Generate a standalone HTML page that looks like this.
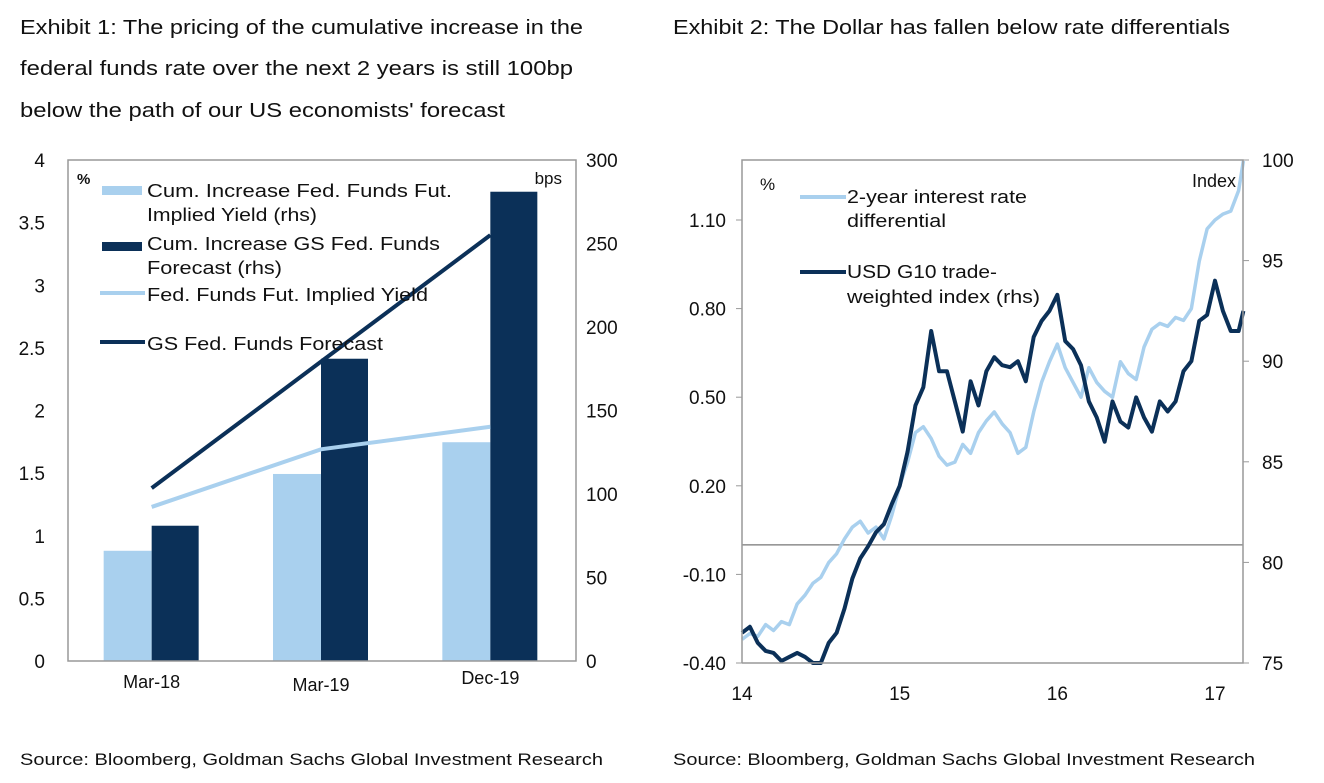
<!DOCTYPE html>
<html><head><meta charset="utf-8"><style>
body{margin:0;background:#fff;width:1324px;height:783px;overflow:hidden;font-family:"Liberation Sans",Arial,sans-serif;}
svg{position:absolute;left:0;top:0}
text{font-family:"Liberation Sans",Arial,sans-serif;fill:#111}
</style></head><body>
<svg id="s" width="1324" height="783">
<g font-size="20">
<text x="20" y="34" textLength="563" lengthAdjust="spacingAndGlyphs">Exhibit 1: The pricing of the cumulative increase in the</text>
<text x="20" y="75" textLength="553" lengthAdjust="spacingAndGlyphs">federal funds rate over the next 2 years is still 100bp</text>
<text x="20" y="117" textLength="485" lengthAdjust="spacingAndGlyphs">below the path of our US economists' forecast</text>
</g>
<text x="673" y="34" font-size="20" textLength="557" lengthAdjust="spacingAndGlyphs">Exhibit 2: The Dollar has fallen below rate differentials</text>
<text x="20" y="765" font-size="17" textLength="583" lengthAdjust="spacingAndGlyphs">Source: Bloomberg, Goldman Sachs Global Investment Research</text>
<text x="673" y="765" font-size="17" textLength="582" lengthAdjust="spacingAndGlyphs">Source: Bloomberg, Goldman Sachs Global Investment Research</text>
<g id="c1"></g>
<g id="c2"></g>
</svg>
<script>
// Chart 1 data
const cats1 = ["Mar-18","Mar-19","Dec-19"];
const cumImplied = [66,112,131];       // bps rhs
const cumGS = [81,181,281];            // bps rhs
const impliedYield = [1.23,1.69,1.87]; // % lhs
const gsForecast = [1.38,2.39,3.40];   // % lhs
const lTicks1 = ["0","0.5","1","1.5","2","2.5","3","3.5","4"];
const rTicks1 = ["0","50","100","150","200","250","300"];
// Chart 2 data
const t2 = [14.0,14.05,14.1,14.15,14.2,14.25,14.3,14.35,14.4,14.45,14.5,14.55,14.6,14.65,14.7,14.75,14.8,14.85,14.9,14.95,15.0,15.05,15.1,15.15,15.2,15.25,15.3,15.35,15.4,15.45,15.5,15.55,15.6,15.65,15.7,15.75,15.8,15.85,15.9,15.95,16.0,16.05,16.1,16.15,16.2,16.25,16.3,16.35,16.4,16.45,16.5,16.55,16.6,16.65,16.7,16.75,16.8,16.85,16.9,16.95,17.0,17.05,17.1,17.15,17.18];
const diff2y = [-0.32,-0.30,-0.31,-0.27,-0.29,-0.26,-0.27,-0.20,-0.17,-0.13,-0.11,-0.06,-0.03,0.02,0.06,0.08,0.04,0.06,0.02,0.10,0.20,0.28,0.38,0.40,0.36,0.30,0.27,0.28,0.34,0.31,0.38,0.42,0.45,0.41,0.38,0.31,0.33,0.45,0.55,0.62,0.68,0.60,0.55,0.50,0.60,0.55,0.52,0.50,0.62,0.58,0.56,0.67,0.73,0.75,0.74,0.77,0.76,0.80,0.96,1.07,1.10,1.12,1.13,1.20,1.30];
const usdIdx = [76.5,76.8,76.0,75.6,75.5,75.1,75.3,75.5,75.3,75.0,75.0,76.0,76.5,77.7,79.2,80.2,80.8,81.5,81.9,82.9,83.8,85.5,87.8,88.7,91.5,89.5,89.5,88.0,86.5,89.0,87.8,89.5,90.2,89.8,89.7,90.0,89.0,91.2,92.0,92.5,93.3,91.0,90.6,89.8,88.0,87.2,86.0,88.0,87.0,86.7,88.2,87.2,86.5,88.0,87.5,88.0,89.5,90.0,92.0,92.3,94.0,92.5,91.5,91.5,92.5];
const lTicks2 = ["-0.40","-0.10","0.20","0.50","0.80","1.10"];
const rTicks2 = ["75","80","85","90","95","100"];
const xTicks2 = ["14","15","16","17"];

const NS="http://www.w3.org/2000/svg";
function mk(p,tag,a,txt){const e=document.createElementNS(NS,tag);for(const k in a)e.setAttribute(k,a[k]);if(txt!==undefined)e.textContent=txt;p.appendChild(e);return e;}
function tl(p,x,y,w,txt){return mk(p,'text',{x:x,y:y,textLength:w,lengthAdjust:'spacingAndGlyphs'},txt);}
const DARK="#0b3058", LIGHT="#a9d0ee";

// ---- Chart 1
(function(){
const g=document.getElementById('c1');
const X0=68,X1=576,Y0=661,Y1=160;
const yl=v=>Y0-(v/4)*(Y0-Y1), yr=v=>Y0-(v/300)*(Y0-Y1);
const band=(X1-X0)/cats1.length, cx=i=>X0+band*(i+0.5)-1, bw=48;
lTicks1.forEach(t=>{const e=mk(g,'text',{x:45,y:yl(+t)+7,'font-size':19,'text-anchor':'end'},t);
});
rTicks1.forEach(t=>{const e=mk(g,'text',{x:586,y:yr(+t)+7,'font-size':19},t);
});
cats1.forEach((c,i)=>{
 const a=mk(g,'rect',{x:cx(i)-bw,y:yr(cumImplied[i]),width:bw,height:Y0-yr(cumImplied[i]),fill:LIGHT});
 
 const b=mk(g,'rect',{x:cx(i),y:yr(cumGS[i]),width:bw-1,height:Y0-yr(cumGS[i]),fill:DARK});
 
 const l=mk(g,'text',{x:cx(i),y:[688,691,684][i],'font-size':18,'text-anchor':'middle'},c);
 
});
const pl=(arr)=>arr.map((v,i)=>cx(i)+','+yl(v)).join(' ');
const l1=mk(g,'polyline',{points:pl(impliedYield),fill:'none',stroke:LIGHT,'stroke-width':4});

const l2=mk(g,'polyline',{points:pl(gsForecast),fill:'none',stroke:DARK,'stroke-width':4});

const fr=mk(g,'rect',{x:X0,y:Y1,width:X1-X0,height:Y0-Y1,fill:'none',stroke:'#999','stroke-width':1.5});

mk(g,'text',{x:77,y:184,'font-size':15,'font-weight':'bold'},'%');
mk(g,'text',{x:562,y:184,'font-size':17,'text-anchor':'end'},'bps');
const leg=mk(g,'g',{'font-size':18});
mk(leg,'rect',{x:102,y:186,width:40,height:9,fill:LIGHT});
tl(leg,147,197,305,'Cum. Increase Fed. Funds Fut.');
tl(leg,147,221,170,'Implied Yield (rhs)');
mk(leg,'rect',{x:102,y:242,width:40,height:9,fill:DARK});
tl(leg,147,250,293,'Cum. Increase GS Fed. Funds');
tl(leg,147,274,135,'Forecast (rhs)');
mk(leg,'line',{x1:100,y1:293,x2:145,y2:293,stroke:LIGHT,'stroke-width':4});
tl(leg,147,301,281,'Fed. Funds Fut. Implied Yield');
mk(leg,'line',{x1:100,y1:342,x2:145,y2:342,stroke:DARK,'stroke-width':4});
tl(leg,147,350,236,'GS Fed. Funds Forecast');
})();

// ---- Chart 2
(function(){
const g=document.getElementById('c2');
const X0=742,X1=1243,Y0=663,Y1=160;
const x=t=>X0+(t-14)*((1215-742)/3);
const yL=v=>Y0-(v+0.40)*((Y0-220)/1.5);
const yR=v=>Y0-(v-75)*((Y0-Y1)/25);
lTicks2.forEach(t=>{const e=mk(g,'text',{x:726,y:yL(+t)+7,'font-size':19,'text-anchor':'end'},t);

mk(g,'line',{x1:X0-6,x2:X0,y1:yL(+t),y2:yL(+t),stroke:'#999'});});
rTicks2.forEach(t=>{const e=mk(g,'text',{x:1262,y:yR(+t)+7,'font-size':19},t);

mk(g,'line',{x1:X1,x2:X1+6,y1:yR(+t),y2:yR(+t),stroke:'#999'});});
xTicks2.forEach(t=>{const e=mk(g,'text',{x:x(+t),y:700,'font-size':19,'text-anchor':'middle'},t);
});
const z=mk(g,'line',{x1:X0,x2:X1,y1:yL(0),y2:yL(0),stroke:'#777','stroke-width':1.2});

const a=mk(g,'polyline',{points:t2.map((t,i)=>x(t)+','+yL(diff2y[i])).join(' '),fill:'none',stroke:LIGHT,'stroke-width':3.5,'stroke-linejoin':'round'});

const b=mk(g,'polyline',{points:t2.map((t,i)=>x(t)+','+yR(usdIdx[i])).join(' '),fill:'none',stroke:DARK,'stroke-width':4,'stroke-linejoin':'round'});

const fr=mk(g,'path',{d:`M${X0},${Y0} V${Y1} H${X1} V${Y0} H${X0}`,fill:'none',stroke:'#999','stroke-width':1.5});

mk(g,'text',{x:760,y:190,'font-size':17},'%');
mk(g,'text',{x:1236,y:187,'font-size':18,'text-anchor':'end'},'Index');
const leg=mk(g,'g',{'font-size':18});
mk(leg,'line',{x1:800,y1:197,x2:846,y2:197,stroke:LIGHT,'stroke-width':4});
tl(leg,847,203,180,'2-year interest rate');
tl(leg,847,227,99,'differential');
mk(leg,'line',{x1:800,y1:272,x2:846,y2:272,stroke:DARK,'stroke-width':4});
tl(leg,847,278,150,'USD G10 trade-');
tl(leg,847,303,193,'weighted index (rhs)');
})();
</script>
</body></html>
